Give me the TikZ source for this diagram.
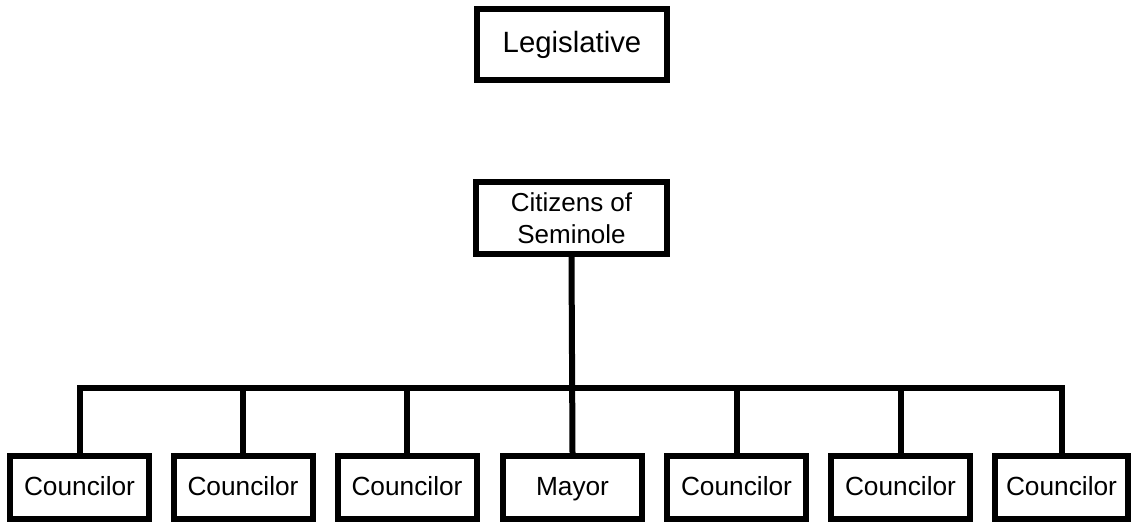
\documentclass[tikz,border=0pt]{standalone}
\usepackage{fontspec}
\setmainfont{Liberation Sans}
\begin{document}
\begin{tikzpicture}[x=0.75pt,y=-0.75pt,
  box/.style={draw=black,line width=4.5pt,fill=white,inner sep=0pt,align=center},
  smallbox/.style={box,minimum width=139*0.75pt,minimum height=63*0.75pt,font=\fontsize{19.7}{24}\selectfont,text height=2.3ex,text depth=0.1ex},
  conn/.style={line width=4.5pt,draw=black}]
\useasboundingbox (0,0) rectangle (1132,525);
\node[box,minimum width=190*0.75pt,minimum height=71*0.75pt,font=\fontsize{22}{26}\selectfont] (leg) at (572,44.5) {Legislative};
\node[box,minimum width=191*0.75pt,minimum height=72*0.75pt,font=\fontsize{19.5}{24}\selectfont] (cit) at (571.5,218) {Citizens of\\Seminole};
\coordinate (bar) at (572,388);
\node[smallbox] (c1) at (79.5,487.5) {Councilor};
\node[smallbox] (c2) at (243,487.5) {Councilor};
\node[smallbox] (c3) at (407,487.5) {Councilor};
\node[smallbox] (mayor) at (572.5,487.5) {Mayor};
\node[smallbox] (c5) at (736.5,487.5) {Councilor};
\node[smallbox] (c6) at (900.5,487.5) {Councilor};
\node[smallbox,minimum width=133*0.75pt] (c7) at (1061.5,487.5) {Councilor};
\draw[conn] (cit.south) -- (mayor.north);
\draw[conn] (c1.north) -- (c1.north |- bar) -- (c7.north |- bar) -- (c7.north);
\foreach \n in {c2,c3,c5,c6}{\draw[conn] (\n.north) -- (\n.north |- bar);}
\end{tikzpicture}
\end{document}
